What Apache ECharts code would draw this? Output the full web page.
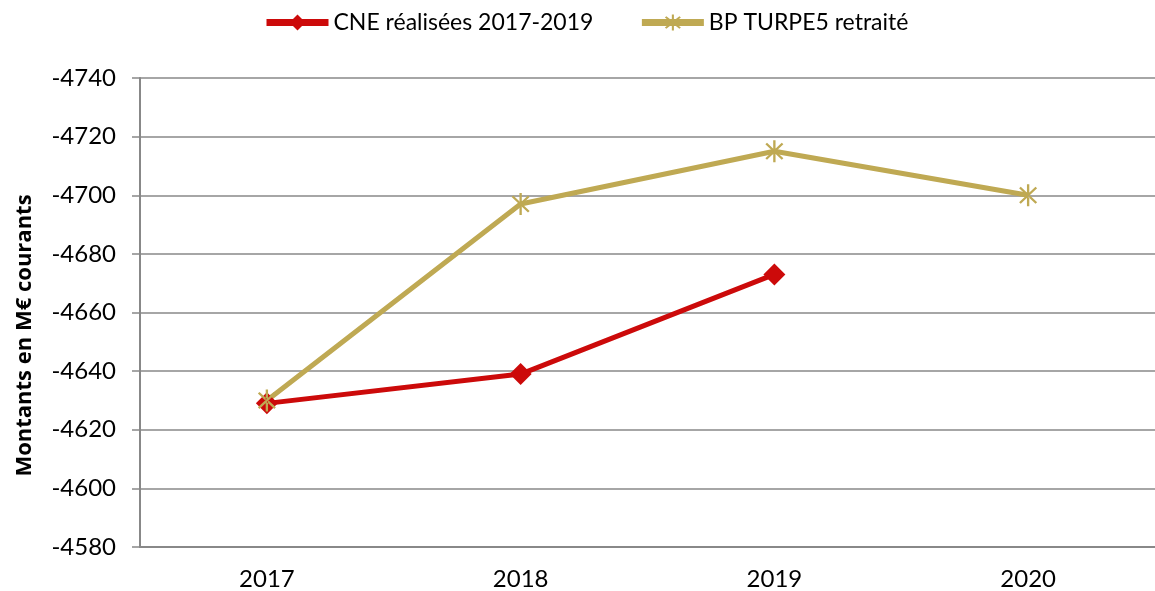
<!DOCTYPE html>
<html>
<head>
<meta charset="utf-8">
<script src="https://cdn.jsdelivr.net/npm/echarts@6/dist/echarts.min.js"></script>
<style>
    html, body { margin: 0; padding: 0; background: #fff; }
    #chart { width: 1155px; height: 591px; }
</style>
</head>
<body>
<div id="chart"></div>
<script>
var years = ["2017", "2018", "2019", "2020"];
var cneValues = [-4629, -4639, -4673, null];
var bpValues = [-4630, -4697, -4715, -4700];
var yTicks = [-4740, -4720, -4700, -4680, -4660, -4640, -4620, -4600, -4580];

var font = "Lato, 'Noto Sans', sans-serif";
// asterisk marker: vertical stroke + two diagonals
var star = "path://M-1,-10L1,-10L1,10L-1,10Z" +
    "M-7.7,-6.3L6.3,7.7L7.7,6.3L-6.3,-7.7Z" +
    "M-7.7,6.3L6.3,-7.7L7.7,-6.3L-6.3,7.7Z";

var chart = echarts.init(document.getElementById("chart"));
chart.setOption({
    animation: false,
    textStyle: { fontFamily: font },
    legend: {
        top: 6,
        left: 258,
        itemWidth: 62,
        itemHeight: 20,
        itemGap: 45,
        lineStyle: { width: 7 },
        textStyle: { fontSize: 23, color: "#000", fontFamily: font },
        data: ["CNE réalisées 2017-2019", "BP TURPE5 retraité"]
    },
    grid: { left: 140, right: -6, top: 78, bottom: 44 },
    xAxis: {
        type: "category",
        data: years,
        boundaryGap: true,
        axisLine: { lineStyle: { color: "#888", width: 2 } },
        axisTick: { inside: true, length: 8, lineStyle: { color: "#888", width: 1.5 } },
        axisLabel: { fontSize: 24, color: "#000", margin: 20 }
    },
    yAxis: {
        type: "value",
        inverse: true,
        min: yTicks[0],
        max: yTicks[yTicks.length - 1],
        interval: 20,
        name: "Montants en M€ courants",
        nameLocation: "middle",
        nameRotate: 90,
        nameGap: 104,
        nameTextStyle: {
            fontSize: 22, fontWeight: "bold", color: "#000",
            fontFamily: "'Open Sans', sans-serif",
            padding: [0, 46, 0, 0]
        },
        axisLine: { show: true, lineStyle: { color: "#888", width: 2 } },
        axisTick: { show: true, length: 8, lineStyle: { color: "#888", width: 1.5 } },
        axisLabel: {
            fontSize: 24, color: "#000", margin: 24,
            formatter: function(v) { return String(v); }
        },
        splitLine: { lineStyle: { color: "#888", width: 1.5 } }
    },
    series: [
        {
            name: "CNE réalisées 2017-2019",
            type: "line",
            data: cneValues,
            symbol: "diamond",
            symbolSize: 22,
            lineStyle: { color: "#cc0a0a", width: 5 },
            itemStyle: { color: "#cc0a0a" }
        },
        {
            name: "BP TURPE5 retraité",
            type: "line",
            data: bpValues,
            symbol: star,
            symbolSize: [18, 22],
            lineStyle: { color: "#bfa953", width: 5 },
            itemStyle: { color: "#bfa953" }
        }
    ]
});
</script>
</body>
</html>
